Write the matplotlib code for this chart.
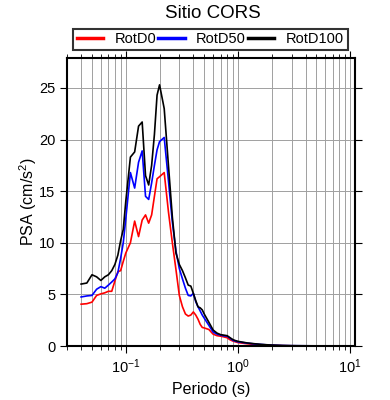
import matplotlib
matplotlib.use("Agg")
import matplotlib.pyplot as plt
from matplotlib.ticker import LogLocator, NullFormatter, MultipleLocator

plt.rcParams['font.family'] = ['Liberation Sans', 'DejaVu Sans']
plt.rcParams['mathtext.fontset'] = 'custom'
plt.rcParams['mathtext.rm'] = 'Liberation Sans'

# periodos (s)
periodo = [0.04, 0.045, 0.05, 0.055, 0.06, 0.065, 0.07, 0.075, 0.08, 0.085, 0.09, 0.095,
           0.10, 0.11, 0.12, 0.13, 0.14, 0.15, 0.16, 0.17, 0.18, 0.19, 0.20, 0.22, 0.24,
           0.26, 0.28, 0.30, 0.32, 0.34, 0.36, 0.38, 0.40, 0.42, 0.44, 0.46, 0.48, 0.50,
           0.55, 0.60, 0.65, 0.70, 0.75, 0.80, 0.85, 0.90, 0.95, 1.0, 1.2, 1.4, 1.6, 1.8,
           2.0, 2.5, 3.0, 4.0, 5.0, 6.0, 7.5, 10.0]

rotd0 = [4.05, 4.1, 4.25, 4.9, 5.05, 5.15, 5.3, 5.3, 6.3, 7.2, 7.3, 8.2,
         9.0, 10.0, 12.1, 10.6, 12.2, 12.7, 11.9, 12.7, 14.5, 16.2, 16.4, 16.8, 13.0,
         10.0, 7.4, 4.9, 3.8, 3.1, 2.9, 3.0, 3.3, 3.0, 2.6, 2.1, 1.8, 1.75,
         1.6, 1.15, 1.0, 0.95, 0.88, 0.8, 0.6, 0.48, 0.4, 0.33, 0.22, 0.15, 0.1, 0.08,
         0.06, 0.03, 0.02, 0.01, 0.01, 0.005, 0.005, 0.004]

rotd50 = [4.75, 4.85, 4.9, 5.5, 5.75, 5.6, 5.9, 6.2, 6.5, 7.1, 8.5, 10.0,
          12.3, 16.8, 15.3, 17.8, 18.9, 14.5, 14.2, 15.8, 17.5, 19.0, 19.8, 20.2, 16.0,
          12.0, 9.2, 7.5, 6.5, 5.6, 4.9, 4.85, 5.1, 4.3, 3.8, 3.4, 3.0, 2.7,
          2.0, 1.35, 1.15, 1.05, 0.98, 0.95, 0.75, 0.55, 0.47, 0.4, 0.28, 0.2, 0.15, 0.11,
          0.08, 0.045, 0.03, 0.02, 0.012, 0.01, 0.008, 0.006]

rotd100 = [6.0, 6.1, 6.9, 6.7, 6.35, 6.7, 6.9, 7.3, 7.9, 8.8, 10.2, 11.3,
           14.0, 18.3, 18.8, 21.3, 21.7, 16.5, 15.6, 17.5, 20.5, 24.3, 25.3, 23.0, 17.5,
           12.5, 9.0, 7.9, 7.3, 6.6, 5.9, 5.8, 5.1, 4.4, 3.8, 3.7, 3.5, 3.1,
           2.3, 1.55, 1.25, 1.1, 1.05, 1.0, 0.8, 0.62, 0.52, 0.45, 0.3, 0.22, 0.16, 0.12,
           0.09, 0.05, 0.03, 0.02, 0.015, 0.01, 0.01, 0.01]

fig = plt.figure(figsize=(3.9, 4.0), dpi=100)
ax = fig.add_axes([0.172, 0.135, 0.738, 0.72])

ax.plot(periodo, rotd0, color='red', lw=1.2, label='RotD0')
ax.plot(periodo, rotd50, color='blue', lw=1.2, label='RotD50')
ax.plot(periodo, rotd100, color='black', lw=1.2, label='RotD100')

ax.set_xscale('log')
ax.set_xlim(0.03, 11)
ax.set_ylim(0, 27.9)
ax.yaxis.set_major_locator(MultipleLocator(5))
ax.xaxis.set_major_locator(LogLocator(base=10, numticks=10))
ax.xaxis.set_minor_locator(LogLocator(base=10, subs=range(2, 10), numticks=20))
ax.xaxis.set_minor_formatter(NullFormatter())

ax.grid(True, which='both', axis='x', color='#a0a0a0', lw=0.7)
ax.grid(True, which='major', axis='y', color='#a0a0a0', lw=0.7)

for s in ax.spines.values():
    s.set_linewidth(1.5)
ax.tick_params(which='both', direction='out', top=True, right=True, labelsize=10.5)
ax.tick_params(which='major', length=5, width=0.8)
ax.tick_params(which='minor', length=3, width=0.6)

ax.set_xlabel('Periodo (s)', fontsize=11.5)
ax.set_ylabel('PSA (cm/s$^2$)', fontsize=11.5)
ax.yaxis.set_label_coords(-0.098, 0.5)

fig.text(0.545, 0.965, 'Sitio CORS', ha='center', va='center', fontsize=13.5)
leg = fig.legend(loc='lower left', bbox_to_anchor=(0.187, 0.875, 0.705, 0.055),
                 mode='expand', ncol=3, fontsize=10.5, frameon=True, fancybox=False,
                 borderaxespad=0, handlelength=1.8, handletextpad=0.8, borderpad=0.25)
leg.get_frame().set_edgecolor('black')
leg.get_frame().set_linewidth(1.5)
for h in leg.get_lines():
    h.set_linewidth(2.5)

fig.savefig('out.png', dpi=100)
